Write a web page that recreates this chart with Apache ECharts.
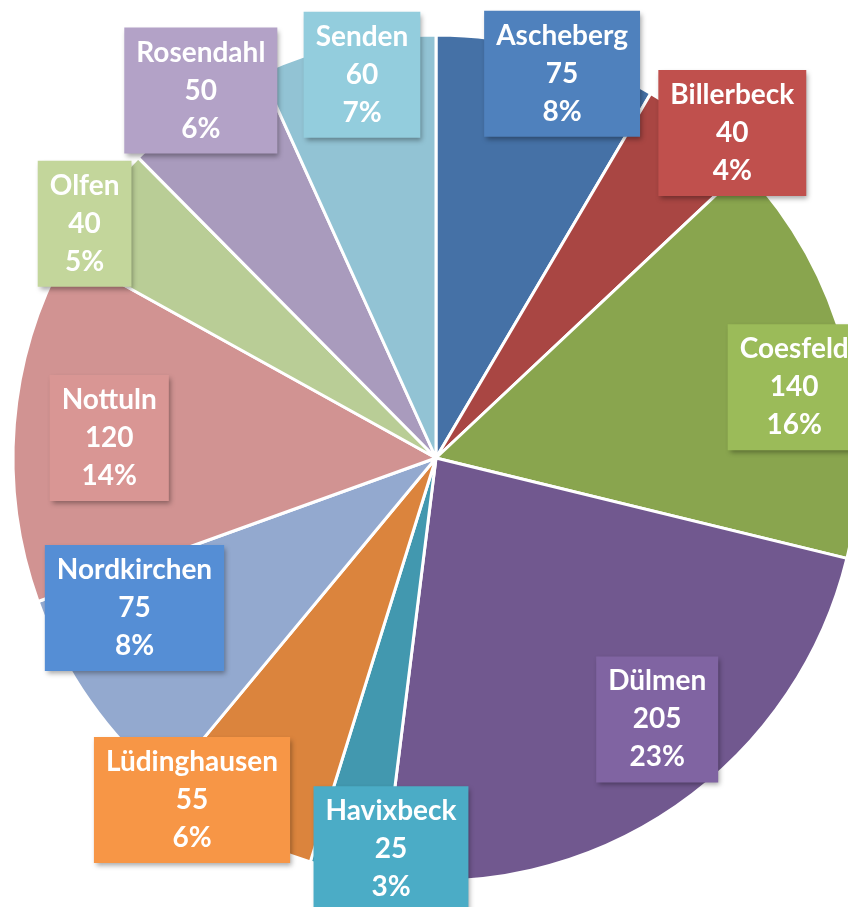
<!DOCTYPE html>
<html>
<head>
<meta charset="utf-8">
<script src="https://cdn.jsdelivr.net/npm/echarts@6/dist/echarts.min.js"></script>
<style>
  html, body { margin: 0; padding: 0; background: #fff; }
  #chart { width: 848px; height: 907px; }
</style>
</head>
<body>
<div id="chart"></div>
<script>
// ---- data ----
const categories = ['Ascheberg', 'Billerbeck', 'Coesfeld', 'Dülmen', 'Havixbeck', 'Lüdinghausen', 'Nordkirchen', 'Nottuln', 'Olfen', 'Rosendahl', 'Senden'];
const values = [75, 40, 140, 205, 25, 55, 75, 120, 40, 50, 60];
const percentLabels = [8, 4, 16, 23, 3, 6, 8, 14, 5, 6, 7];

// ---- styles ----
const sliceColors = ['#4571A6', '#A94643', '#89A54E', '#71588F', '#4298AF', '#DB843D', '#93A9CF', '#D19392', '#B9CD96', '#A99BBD', '#92C3D4'];
const boxColors = ['#4F81BD', '#C0504D', '#9BBB59', '#8064A2', '#4BACC6', '#F79646', '#558ED5', '#D99694', '#C3D69B', '#B3A2C7', '#93CDDD'];
// label nudges relative to the ring position (best-fit placement in the original)
const labelNudge = [[24, -10], [54, -22], [-17, 28], [1, -58], [37, 12], [-59, 1], [16, -73], [60, 11], [-42, 0], [-15, -48], [8, -4]];

const CENTER = [436, 458];
const RADIUS = 423;

const chart = echarts.init(document.getElementById('chart'), null, { renderer: 'canvas' });

const sliceData = categories.map((name, i) => ({
  name, value: values[i],
  itemStyle: { color: sliceColors[i] }
}));
const labelData = categories.map((name, i) => ({
  name, value: values[i],
  label: { backgroundColor: boxColors[i] }
}));

chart.setOption({
  animation: false,
  backgroundColor: '#ffffff',
  series: [
    {
      type: 'pie',
      center: CENTER,
      radius: RADIUS,
      startAngle: 90,
      clockwise: true,
      silent: true,
      avoidLabelOverlap: false,
      label: { show: false },
      labelLine: { show: false },
      itemStyle: { borderColor: '#ffffff', borderWidth: 3 },
      data: sliceData
    },
    {
      type: 'pie',
      center: CENTER,
      radius: [340, 430],
      startAngle: 90,
      clockwise: true,
      silent: true,
      avoidLabelOverlap: false,
      itemStyle: { color: 'rgba(0,0,0,0)', borderWidth: 0 },
      labelLine: { show: false },
      label: {
        show: true,
        position: 'inside',
        color: '#ffffff',
        fontFamily: 'Lato',
        fontWeight: 'bold',
        fontSize: 28,
        lineHeight: 38,
        align: 'center',
        padding: [6, 12, 6, 12],
        shadowColor: 'rgba(0,0,0,0.35)',
        shadowBlur: 5,
        shadowOffsetX: 2,
        shadowOffsetY: 3,
        formatter: p => p.name + '\n' + p.value + '\n' + percentLabels[p.dataIndex] + '%'
      },
      labelLayout: p => ({ dx: labelNudge[p.dataIndex][0], dy: labelNudge[p.dataIndex][1] }),
      data: labelData
    }
  ]
});
</script>
</body>
</html>
